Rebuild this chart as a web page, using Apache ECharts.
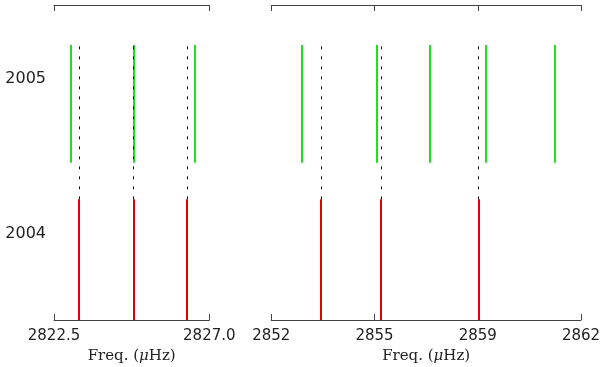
<!DOCTYPE html>
<html><head><meta charset="utf-8">
<script src="https://cdn.jsdelivr.net/npm/echarts@6/dist/echarts.min.js"></script>
<style>html,body{margin:0;padding:0;background:#fff}#c{width:600px;height:367px}</style>
</head><body><div id="c"></div>
<script>
// Frequencies (μHz)
const freq2004Left = [2823.23, 2824.80, 2826.36];
const freq2004Right = [2853.60, 2855.54, 2858.69];
const freq2005Left = [2822.99, 2824.81, 2826.59];
const freq2005Right = [2852.97, 2855.40, 2857.12, 2858.91, 2861.15];
// vertical extents of the marks (arbitrary y units 0..10)
const span2004 = [0, 3.83];
const span2005 = [4.99, 8.73];
const spanLink = [3.83, 8.83];
// year row labels
const yearLabels = ['2005', '2004'];
const yearLabelPos = [7.65, 2.73];
// tick labels
const leftRange = [2822.5, 2827.0];
const leftTicks = [2822.5, 2827.0];
const leftTickLabels = ['2822.5', '2827.0'];
const rightRange = [2852, 2862];
const rightTicks = [2852, 2852 + 10 / 3, 2852 + 20 / 3, 2862];
const rightTickLabels = ['2852', '2855', '2859', '2862'];

const axisColor = '#444';
const textColor = '#222';

function labelFor(ticks, labels) {
  return function (v) {
    let best = 0;
    for (let i = 0; i < ticks.length; i++) if (Math.abs(ticks[i] - v) < Math.abs(ticks[best] - v)) best = i;
    return labels[best];
  };
}

function xAxes(gi, range, ticks, labels) {
  return [{
    type: 'value', gridIndex: gi, min: range[0], max: range[1], position: 'bottom',
    axisLine: { show: true, lineStyle: { color: axisColor, width: 1 } },
    axisTick: { show: true, inside: true, length: 6, customValues: ticks, lineStyle: { color: axisColor } },
    axisLabel: { show: true, customValues: ticks, formatter: labelFor(ticks, labels), fontFamily: 'DejaVu Sans', fontSize: 15, color: textColor, margin: 9, hideOverlap: false },
    splitLine: { show: false },
    name: 'Freq. ({i|μ}Hz)', nameLocation: 'middle', nameGap: 28,
    nameTextStyle: { fontFamily: 'DejaVu Serif', fontSize: 15, color: textColor, rich: { i: { fontFamily: 'DejaVu Serif', fontStyle: 'italic', fontSize: 15, color: textColor } } }
  }, {
    type: 'value', gridIndex: gi, min: range[0], max: range[1], position: 'top',
    axisLine: { show: true, lineStyle: { color: axisColor, width: 1 } },
    axisTick: { show: true, inside: true, length: 6, customValues: ticks, lineStyle: { color: axisColor } },
    axisLabel: { show: false },
    splitLine: { show: false }
  }];
}

function vlines(values, span, color, width, dashed, xi, yi, z) {
  return {
    type: 'lines', coordinateSystem: 'cartesian2d', xAxisIndex: xi, yAxisIndex: yi,
    polyline: false, silent: true, z: z,
    lineStyle: { color: color, width: width, type: dashed ? [3, 7] : 'solid', opacity: 1 },
    data: values.map(v => ({ coords: [[v, span[0]], [v, span[1]]] }))
  };
}

const chart = echarts.init(document.getElementById('c'), null, { renderer: 'canvas' });
chart.setOption({
  animation: false,
  backgroundColor: '#fff',
  grid: [
    { left: 54, right: 600 - 209.3, top: 5, bottom: 47, containLabel: false, outerBoundsMode: 'none' },
    { left: 271.3, right: 19, top: 5, bottom: 47, containLabel: false, outerBoundsMode: 'none' }
  ],
  xAxis: [].concat(
    xAxes(0, leftRange, leftTicks, leftTickLabels),
    xAxes(1, rightRange, rightTicks, rightTickLabels)
  ),
  yAxis: [
    { type: 'value', gridIndex: 0, min: 0, max: 10, axisLine: { show: false }, axisTick: { show: false }, splitLine: { show: false },
      axisLabel: { show: true, customValues: yearLabelPos, formatter: labelFor(yearLabelPos, yearLabels), fontFamily: 'DejaVu Sans', fontSize: 16, color: textColor, margin: 8 } },
    { type: 'value', gridIndex: 1, min: 0, max: 10, show: false }
  ],
  series: [
    vlines(freq2005Left, span2005, '#22dd22', 2, false, 0, 0, 2),
    vlines(freq2005Right, span2005, '#22dd22', 2, false, 2, 1, 2),
    vlines(freq2004Left, span2004, '#e00000', 2, false, 0, 0, 2),
    vlines(freq2004Right, span2004, '#e00000', 2, false, 2, 1, 2),
    vlines(freq2004Left, spanLink, '#111', 1, true, 0, 0, 3),
    vlines(freq2004Right, spanLink, '#111', 1, true, 2, 1, 3)
  ]
});
</script>
</body></html>
